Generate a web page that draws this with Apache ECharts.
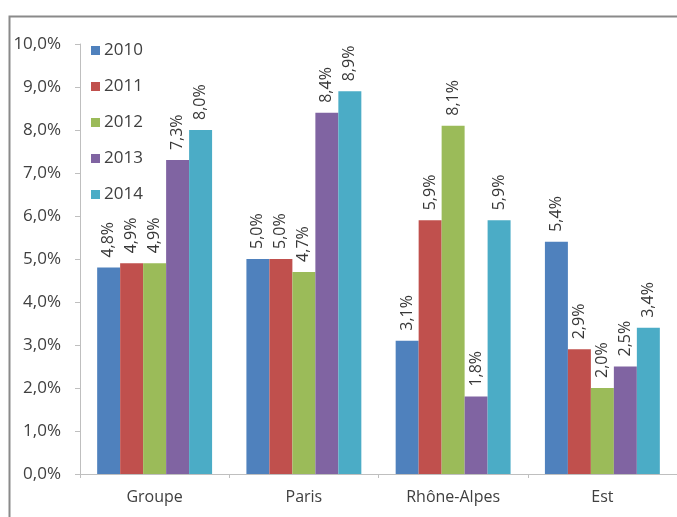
<!DOCTYPE html>
<html>
<head>
<meta charset="utf-8">
<script src="https://cdn.jsdelivr.net/npm/echarts@6/dist/echarts.min.js"></script>
<style>html,body{margin:0;padding:0;background:#fff;}#c{width:677px;height:517px;}</style>
</head>
<body>
<div id="c"></div>
<script>
var categories = ['Groupe', 'Paris', 'Rhône-Alpes', 'Est'];
var seriesNames = ['2010', '2011', '2012', '2013', '2014'];
var v2010 = [4.8, 5.0, 3.1, 5.4];
var v2011 = [4.9, 5.0, 5.9, 2.9];
var v2012 = [4.9, 4.7, 8.1, 2.0];
var v2013 = [7.3, 8.4, 1.8, 2.5];
var v2014 = [8.0, 8.9, 5.9, 3.4];
var yTicks = [0, 1, 2, 3, 4, 5, 6, 7, 8, 9, 10];
var colors = ['#4F81BD', '#C0504D', '#9BBB59', '#8064A2', '#4BACC6'];
var values = [v2010, v2011, v2012, v2013, v2014];

function pct(v) { return v.toFixed(1).replace('.', ',') + '%'; }

var chart = echarts.init(document.getElementById('c'), null, {renderer: 'canvas'});
var FONT = 'Open Sans';
chart.setOption({
  animation: false,
  backgroundColor: '#fff',
  color: colors,
  graphic: [{
    type: 'rect', left: 7, top: 14, z: -1,
    shape: {width: 700, height: 520},
    style: {fill: 'none', stroke: '#8a8a8a', lineWidth: 2}
  }],
  legend: {
    orient: 'vertical', left: 86, top: 37, z: 10,
    itemWidth: 9, itemHeight: 9, itemGap: 19,
    icon: 'rect',
    textStyle: {fontFamily: FONT, fontSize: 17, lineHeight: 17, color: '#404040', padding: [0, 0, 0, -1]},
    data: seriesNames
  },
  grid: {left: 80, top: 44, width: 602, height: 430},
  xAxis: {
    type: 'category', data: categories,
    axisLine: {lineStyle: {color: '#bfbfbf'}},
    axisTick: {show: true, length: 4, lineStyle: {color: '#bfbfbf'}},
    axisLabel: {fontFamily: FONT, fontSize: 16, color: '#404040', margin: 15}
  },
  yAxis: {
    type: 'value', min: yTicks[0], max: yTicks[yTicks.length - 1], interval: 1,
    splitLine: {show: false},
    axisLine: {show: true, lineStyle: {color: '#bfbfbf'}},
    axisTick: {show: true, length: 5, inside: false, lineStyle: {color: '#bfbfbf'}},
    axisLabel: {fontFamily: FONT, fontSize: 17, color: '#404040', margin: 19, formatter: function (v) { return pct(v); }}
  },
  series: seriesNames.map(function (n, i) {
    return {
      name: n, type: 'bar', data: values[i],
      barGap: '0%', barCategoryGap: '23%',
      label: {
        show: true, position: 'top', rotate: 90, distance: 10,
        align: 'left', verticalAlign: 'middle',
        fontFamily: FONT, fontSize: 16, color: '#383838',
        formatter: function (p) { return pct(p.value); }
      }
    };
  })
});
</script>
</body>
</html>
